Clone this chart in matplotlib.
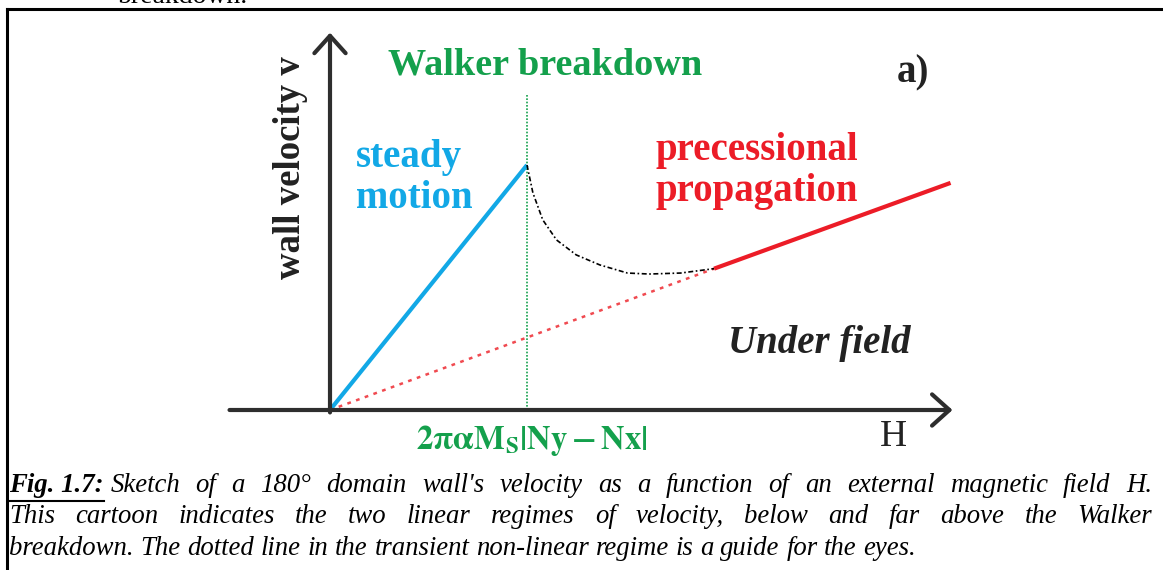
import numpy as np
import matplotlib.pyplot as plt
from matplotlib.lines import Line2D

# Sketch data (H in units of the Walker field, v in units of the Walker velocity)
steady_h = [0.0, 1.0]
steady_v = [0.0, 1.0]
transient_h = [1.0, 1.03, 1.08, 1.15, 1.25, 1.37, 1.51, 1.62, 1.78, 1.95]
transient_v = [1.0, 0.886, 0.776, 0.694, 0.633, 0.592, 0.559, 0.555, 0.559, 0.577]
precess_h = [1.95, 3.15]
precess_v = [0.577, 0.927]
extrap_h = [0.0, 1.95]
extrap_v = [0.0, 0.577]
walker_h = 1.0
walker_top = 1.29
h_axis = [-0.51, 3.16]
v_axis = [0.0, 1.54]

caption = [
    "Sketch of a 180° domain wall's velocity as a function of an external magnetic field H.",
    "This cartoon indicates the two linear regimes of velocity, below and far above the Walker",
    "breakdown. The dotted line in the transient non-linear regime is a guide for the eyes.",
]

W, H = 1163, 570
serif = 'Liberation Serif'
blue = '#12a8e6'
red = '#ec1c27'
green = '#14a04c'
dark = '#2e2e2e'

fig = plt.figure(figsize=(W / 100, H / 100), dpi=100)
ax = fig.add_axes([0, 0, 1, 1])
ax.set_xlim(-330 / 197, (W - 330) / 197)
ax.set_ylim((410 - H) / 245, 410 / 245)
ax.axis('off')

# axes arrows
arrow = dict(arrowstyle='->,head_length=0.5,head_width=0.45', lw=3, color=dark,
             mutation_scale=25, shrinkA=0, shrinkB=0)
ax.annotate('', xy=(h_axis[1], 0), xytext=(h_axis[0], 0), arrowprops=arrow)
ax.annotate('', xy=(0, v_axis[1]), xytext=(0, v_axis[0] - 0.01), arrowprops=arrow)

# curves
ax.plot([walker_h, walker_h], [0, walker_top], color=green, lw=1.2, ls=(0, (1, 1)))
ax.plot(extrap_h, extrap_v, color='#f04a50', lw=1.8, ls=(0, (1.5, 2.2)))
ax.plot(steady_h, steady_v, color=blue, lw=3, solid_capstyle='butt')
ax.plot(transient_h, transient_v, color='black', lw=1.2, ls=(0, (3, 1.5, 1, 1.5)))
ax.plot(precess_h, precess_v, color=red, lw=3, solid_capstyle='butt')

# labels
def px(x, y):
    return x / W, 1 - y / H

bold = dict(family=serif, weight='bold')
fig.text(*px(545, 65), 'Walker breakdown', color=green, fontsize=27.5, ha='center', va='center', **bold)
fig.text(*px(913, 73), 'a)', color='#222222', fontsize=28, ha='center', va='center', **bold)
fig.text(*px(356, 178), 'steady\nmotion', color=blue, fontsize=28, ha='left', va='center',
         linespacing=1.12, **bold)
fig.text(*px(655, 171), 'precessional\npropagation', color=red, fontsize=28, ha='left', va='center',
         linespacing=1.12, **bold)
fig.text(*px(819, 344), 'Under field', color='#222222', fontsize=28, ha='center', va='center',
         style='italic', **bold)
fig.text(*px(893, 437), 'H', color='#222222', fontsize=27, ha='center', va='center', family=serif)
fig.text(*px(290, 168), 'wall velocity v', color='#222222', fontsize=26.5, ha='center', va='center',
         rotation=90, **bold)
plt.rcParams['mathtext.fontset'] = 'stix'
fig.text(*px(532, 440), r'$\mathbf{2\pi\alpha M_S|Ny - Nx|}$', color=green, fontsize=23.5,
         ha='center', va='center')

# cut-off text from the page above
fig.text(*px(118, 3), 'breakdown.', fontsize=20, family=serif, va='baseline', ha='left')

# frame of the figure box
fig.add_artist(Line2D([7 / W, 1], [1 - 9 / H, 1 - 9 / H], color='black', lw=2.2))
fig.add_artist(Line2D([7 / W, 7 / W], [0, 1 - 9 / H], color='black', lw=2.2))

# caption, justified
renderer = fig.canvas.get_renderer()
cap_size = 19.3
x_left, x_right = 9, 1152
baselines = [492, 523, 555]


def width_of(t):
    return t.get_window_extent(renderer).width


head = fig.text(*px(x_left, baselines[0]), 'Fig. 1.7:', fontsize=cap_size, family=serif,
                weight='bold', style='italic', va='baseline', ha='left')
hw = width_of(head)
fig.add_artist(Line2D([x_left / W, (x_left + hw) / W], [1 - 501 / H, 1 - 501 / H],
                      color='black', lw=1.5))

a1 = fig.text(0, 0, 'a', fontsize=cap_size, family=serif, style='italic', alpha=0)
a2 = fig.text(0, 0, 'a a', fontsize=cap_size, family=serif, style='italic', alpha=0)
space = width_of(a2) - 2 * width_of(a1)

for i, line in enumerate(caption):
    words = line.split(' ')
    start = x_left
    if i == 0:
        start = x_left + hw + space
    texts = [fig.text(0, 0, w, fontsize=cap_size, family=serif, style='italic',
                      va='baseline', ha='left') for w in words]
    widths = [width_of(t) for t in texts]
    if i < 2:
        gap = (x_right - start - sum(widths)) / (len(words) - 1)
    else:
        gap = space
    x = start
    for t, w in zip(texts, widths):
        t.set_position(px(x, baselines[i]))
        x += w + gap

fig.savefig('out.png', dpi=100)
